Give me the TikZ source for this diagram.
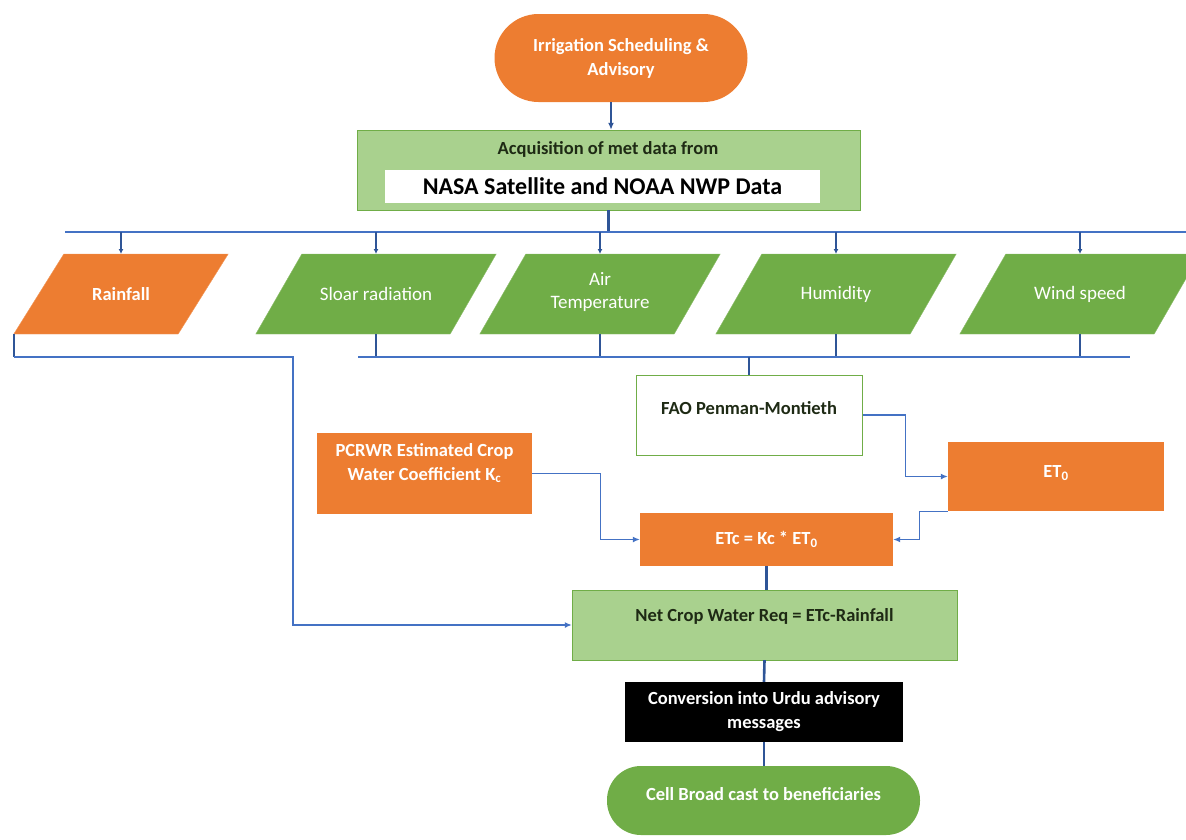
\documentclass[tikz,border=0pt]{standalone}
\usepackage{fontspec}
\setmainfont{Carlito}
\usetikzlibrary{arrows.meta,backgrounds}
\definecolor{ochre}{HTML}{ED7D31}
\definecolor{leaf}{HTML}{70AD47}
\definecolor{paleleaf}{HTML}{A9D18E}
\definecolor{wire}{HTML}{4472C4}
\definecolor{deepwire}{HTML}{2F5597}
\definecolor{inktext}{HTML}{1E2A14}
\begin{document}
\begin{tikzpicture}[x=1pt,y=-1pt,
  every node/.style={font=\fontsize{18.5}{24}\selectfont\bfseries, align=center, inner sep=0pt},
  term/.style={rectangle, rounded corners=34pt, text=white},
  box/.style={rectangle},
  data/.style={rectangle, minimum width=194, minimum height=80, text=white,
    font=\fontsize{19}{23}\selectfont},
  slantfill/.style={fill=#1, draw=#1!80!white},
  stub/.style={draw=deepwire, line width=2.6pt},
  link/.style={draw=wire, line width=1.3pt},
  tip/.style={-{Latex[length=7pt,width=6pt]}}]
  \useasboundingbox (0,0) rectangle (1186,839);

  % start and met data
  \node[term, fill=ochre, minimum width=253, minimum height=88, rounded corners=44pt] (top) at (621,58) {Irrigation Scheduling \&\\Advisory};
  \node[box, fill=paleleaf, draw=leaf, minimum width=503, minimum height=80] (acq) at (608.5,170) {};
  \node[text=inktext] (acqtitle) at (608,149) {Acquisition of met data from};
  \node[box, fill=white, minimum width=435, minimum height=33, font=\fontsize{24}{28}\selectfont\bfseries] (nasa) at (602.5,186.5) {NASA Satellite and NOAA NWP Data};

  \coordinate (busT) at (65,232);
  \coordinate (busTend) at (1186,232);
  \coordinate (busB) at (358,357);
  \coordinate (busBend) at (1130,357);

  % parameters
  \node[data, minimum width=164, font=\fontsize{18.5}{23}\selectfont\bfseries] (rain) at (121,294) {Rainfall};
  \node[data] (sol) at (376,294) {Sloar radiation};
  \node[data] (air) at (600,292) {Air\\Temperature};
  \node[data] (hum) at (836,294) {Humidity};
  \node[data] (wind) at (1080,294) {Wind speed};
  \begin{scope}[on background layer]
    \foreach \p/\c/\s in {rain/ochre/25,sol/leaf/23,air/leaf/23,hum/leaf/23,wind/leaf/23}
      \path[slantfill=\c] ([xshift=-\s pt]\p.south west |- 0,334) -- ([xshift=-\s pt]\p.south east |- 0,334)
        -- ([xshift=\s pt]\p.north east |- 0,254) -- ([xshift=\s pt]\p.north west |- 0,254) -- cycle;
  \end{scope}

  % calculation
  \node[box, fill=white, draw=leaf, line width=1pt, minimum width=226, minimum height=80, text depth=14pt, text=inktext] (fao) at (749,415) {FAO Penman-Montieth};
  \node[box, fill=ochre, minimum width=215, minimum height=81, text depth=24pt, text=white] (pcrwr) at (424.5,473.5) {PCRWR Estimated Crop\\Water Coefficient K\textsubscript{c}};
  \node[box, fill=ochre, minimum width=216, minimum height=69, text depth=10pt, text=white] (et0) at (1056,476.5) {ET\textsubscript{0}};
  \node[box, fill=ochre, minimum width=253, minimum height=53, text=white] (etc) at (766.5,539.5) {ETc = Kc * ET\textsubscript{0}};
  \node[box, fill=paleleaf, draw=leaf, minimum width=385, minimum height=70, text depth=20pt, text=inktext] (net) at (764.5,625) {Net Crop Water Req = ETc-Rainfall};
  \node[box, fill=black, minimum width=278, minimum height=60, text=white] (conv) at (764,712) {Conversion into Urdu advisory\\messages};
  \node[term, fill=leaf, minimum width=313, minimum height=69, text depth=14pt] (cell) at (763.5,800.5) {Cell Broad cast to beneficiaries};

  % connectors
  \draw[stub, tip] ([xshift=-10pt]top.south) -- ([xshift=-10pt]top.south |- acq.north);
  \draw[stub] (acq.south) -- (acq.south |- busT);
  \draw[link] (busT) -- (busTend);
  \foreach \p in {rain,sol,air,hum,wind}
    \draw[stub, -{Latex[length=5pt,width=5pt]}] (\p.north |- busT) -- (\p.north |- 0,254);
  \foreach \p in {sol,air,hum,wind}
    \draw[stub] (\p.south |- 0,334) -- (\p.south |- busB);
  \draw[link] (busB) -- (busBend);
  \draw[stub] (fao.north |- busB) -- (fao.north);

  \coordinate (rainK) at (293,357);
  \coordinate (rainC) at ([xshift=-25pt]rain.south west);
  \draw[stub] (rainC) -- (rainC |- rainK);
  \draw[link, tip] (rainC |- rainK) -- (rainK) |- (net.west);

  \draw[link, tip] (fao.east) -- ++(43,0) |- (et0.west);
  \draw[link, tip] (et0.south west) -- ++(-28,0) |- (etc.east);
  \draw[link, tip] (pcrwr.east) -- ++(68,0) |- (etc.west);
  \draw[stub] (etc.south) -- (etc.south |- net.north);
  \draw[stub] (net.south) -- (conv.north);
  \draw[stub] (conv.south) -- (conv.south |- cell.north);
\end{tikzpicture}
\end{document}
